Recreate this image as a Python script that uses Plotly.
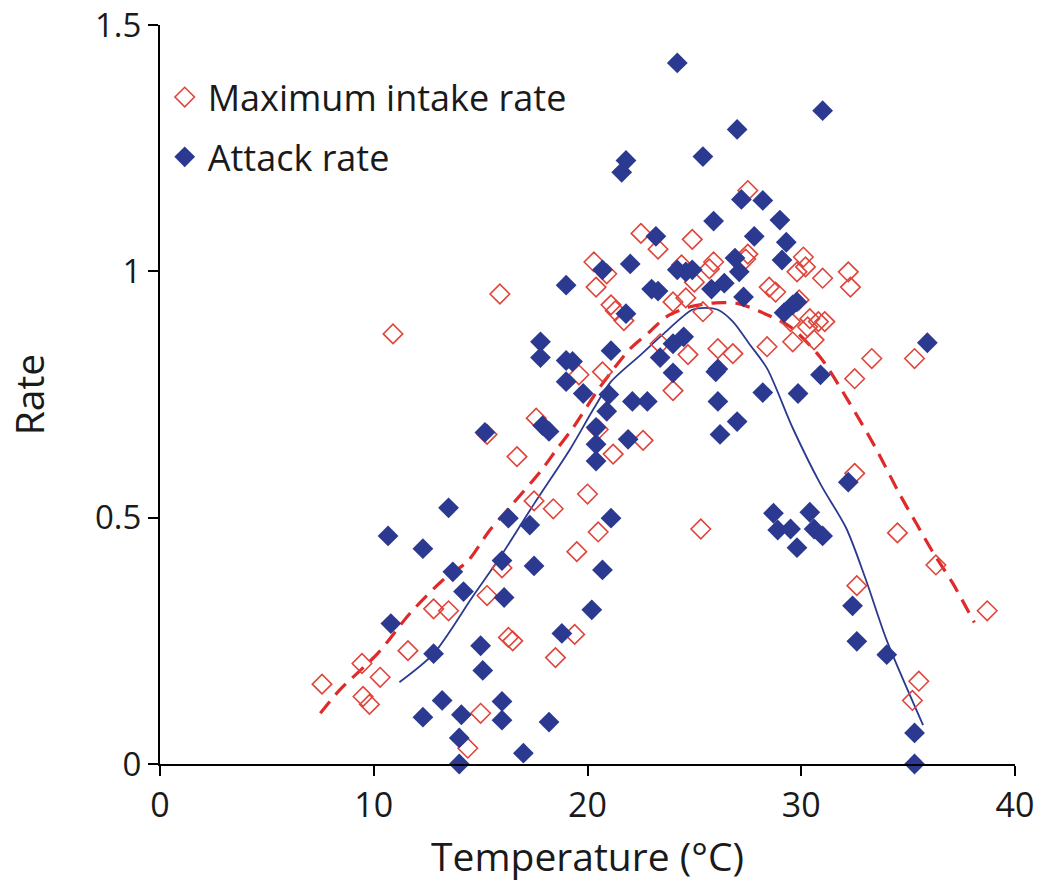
import plotly.graph_objects as go

# Maximum intake rate (open red diamonds)
mir_temp = [7.58, 9.45, 9.5, 9.8, 10.3, 10.9, 11.6, 12.8, 13.5, 14.4, 15.0, 15.3, 15.3, 15.9, 16.0,
            16.3, 16.5, 16.7, 17.5, 17.6, 18.4, 18.5, 19.4, 19.5, 19.6, 20.0, 20.3, 20.4, 20.5, 20.5,
            20.7, 20.9, 21.1, 21.2, 21.3, 21.7, 22.5, 22.6, 23.3, 23.4, 24.0, 24.0, 24.4, 24.6, 24.7,
            24.9, 25.0, 25.3, 25.4, 25.7, 25.9, 26.1, 26.8, 27.4, 27.5, 27.5, 28.4, 28.5, 28.8, 29.5,
            29.6, 29.8, 29.9, 30.1, 30.2, 30.3, 30.4, 30.6, 30.8, 31.0, 31.1, 32.2, 32.3, 32.5, 32.5,
            32.6, 33.3, 34.5, 35.3, 35.2, 35.5, 36.3, 38.7]
mir_rate = [0.162, 0.204, 0.137, 0.121, 0.176, 0.873, 0.230, 0.315, 0.311, 0.032, 0.103, 0.342, 0.669, 0.954, 0.398,
            0.257, 0.250, 0.624, 0.534, 0.702, 0.518, 0.216, 0.263, 0.431, 0.790, 0.548, 1.019, 0.968, 0.471, 0.679,
            0.796, 0.995, 0.932, 0.629, 0.920, 0.900, 1.077, 0.657, 1.045, 0.853, 0.938, 0.758, 1.013, 0.946, 0.831,
            1.065, 0.978, 0.477, 0.918, 1.005, 1.019, 0.843, 0.833, 1.025, 1.035, 1.164, 0.847, 0.968, 0.958, 0.898,
            0.857, 0.999, 0.942, 1.029, 1.009, 0.887, 0.904, 0.861, 0.898, 0.986, 0.898, 0.999, 0.968, 0.782, 0.590,
            0.362, 0.823, 0.469, 0.823, 0.129, 0.168, 0.404, 0.311]

# Attack rate (filled blue diamonds)
ar_temp = [10.67, 10.8, 12.3, 12.3, 12.8, 13.2, 13.5, 13.7, 14.0, 14.0, 14.1, 14.2, 15.0, 15.1, 15.2,
           16.0, 16.0, 16.0, 16.1, 16.3, 17.0, 17.3, 17.5, 17.8, 17.8, 17.9, 18.2, 18.2, 18.8, 19.0,
           19.0, 19.0, 19.3, 19.8, 20.2, 20.4, 20.4, 20.4, 20.7, 20.7, 20.9, 21.0, 21.1, 21.1, 21.6,
           21.8, 21.8, 21.9, 22.0, 22.1, 22.8, 23.0, 23.2, 23.3, 23.4, 24.0, 24.0, 24.2, 24.2, 24.5,
           24.6, 24.9, 25.4, 25.8, 25.9, 26.0, 26.1, 26.2, 26.1, 26.4, 26.9, 27.0, 27.0, 27.1, 27.2,
           27.3, 27.8, 28.2, 28.2, 28.7, 28.9, 29.0, 29.1, 29.2, 29.3, 29.6, 29.5, 29.8, 29.8, 29.85,
           30.4, 30.6, 30.9, 31.0, 31.0, 32.2, 32.4, 32.6, 34.0, 35.3, 35.3, 35.9]
ar_rate = [0.463, 0.285, 0.437, 0.095, 0.224, 0.129, 0.520, 0.390, 0.053, 0.000, 0.100, 0.350, 0.240, 0.190, 0.673,
           0.127, 0.089, 0.413, 0.338, 0.499, 0.022, 0.485, 0.402, 0.857, 0.825, 0.687, 0.675, 0.085, 0.265, 0.972,
           0.819, 0.776, 0.817, 0.752, 0.313, 0.683, 0.649, 0.615, 0.394, 1.003, 0.716, 0.750, 0.499, 0.839, 1.201,
           1.225, 0.914, 0.659, 1.015, 0.736, 0.736, 0.964, 1.071, 0.960, 0.825, 0.794, 0.853, 1.423, 1.003, 0.867,
           0.999, 1.003, 1.233, 0.964, 1.102, 0.796, 0.736, 0.669, 0.802, 0.976, 1.027, 1.288, 0.695, 0.999, 1.146,
           0.948, 1.071, 1.144, 0.754, 0.509, 0.475, 1.104, 1.023, 0.916, 1.059, 0.932, 0.477, 0.938, 0.439, 0.752,
           0.511, 0.477, 0.790, 0.463, 1.326, 0.572, 0.321, 0.249, 0.222, 0.063, 0.000, 0.855]

# Fitted curves
mir_fit_temp = [7.5, 8.4, 10.2, 11.7, 13.2, 14.4, 15.4, 16.5, 17.8, 18.6, 19.3, 20.6, 22.0, 22.9, 23.7,
                24.8, 26.0, 27.1, 28.4, 29.5, 30.9, 32.2, 33.5, 34.6, 35.4, 36.2, 37.1, 38.1]
mir_fit_rate = [0.103, 0.150, 0.225, 0.306, 0.372, 0.412, 0.473, 0.528, 0.594, 0.641, 0.681, 0.766, 0.843, 0.877, 0.908,
                0.928, 0.936, 0.934, 0.912, 0.887, 0.825, 0.737, 0.640, 0.548, 0.487, 0.427, 0.366, 0.287]

ar_fit_temp = [11.2, 12.8, 14.6, 15.9, 17.5, 19.2, 20.3, 21.1, 22.5, 23.5, 24.9, 25.5, 26.1, 26.8, 27.6,
               28.4, 29.6, 30.9, 32.1, 33.0, 34.0, 35.7]
ar_fit_rate = [0.166, 0.224, 0.338, 0.419, 0.528, 0.640, 0.722, 0.776, 0.831, 0.871, 0.922, 0.926, 0.922, 0.898, 0.851,
               0.803, 0.682, 0.568, 0.479, 0.377, 0.251, 0.079]

RED = "#e0443a"
BLUE = "#2b3990"
FONT = "Open Sans"
TXT = "#1a1a1a"

fig = go.Figure()
fig.add_trace(go.Scatter(x=mir_fit_temp, y=mir_fit_rate, mode="lines", showlegend=False,
                         line=dict(color="#e02a2a", width=3.2, dash="15px,9px", shape="spline", smoothing=0.8),
                         hoverinfo="skip"))
fig.add_trace(go.Scatter(x=ar_fit_temp, y=ar_fit_rate, mode="lines", showlegend=False,
                         line=dict(color=BLUE, width=1.8, shape="spline", smoothing=0.8), hoverinfo="skip"))
fig.add_trace(go.Scatter(x=mir_temp, y=mir_rate, mode="markers", name="Maximum intake rate",
                         legendgroup="a", cliponaxis=False,
                         marker=dict(symbol="diamond-open", size=15, color=RED, line=dict(width=1.6, color=RED))))
fig.add_trace(go.Scatter(x=ar_temp, y=ar_rate, mode="markers", name="Attack rate",
                         legendgroup="b", cliponaxis=False,
                         marker=dict(symbol="diamond", size=16, color=BLUE, line=dict(width=0))))

fig.update_layout(
    width=1038, height=886,
    margin=dict(l=160, r=23, t=25, b=122),
    paper_bgcolor="white", plot_bgcolor="white",
    font=dict(family=FONT, color=TXT, size=34),
    showlegend=True,
    legend=dict(x=0.002, y=0.943, xanchor="left", yanchor="top", bgcolor="rgba(0,0,0,0)",
                font=dict(size=36, family=FONT, color=TXT), tracegroupgap=10,
                itemwidth=36),
    xaxis=dict(range=[0, 40], tickvals=[0, 10, 20, 30, 40], showgrid=False, zeroline=False,
               showline=True, linecolor="black", linewidth=2, ticks="outside", ticklen=10,
               tickwidth=2, tickcolor="black", tickfont=dict(size=34, color=TXT), automargin=False,
               ticklabeloverflow="allow",
               title=dict(text="Temperature (°C)", font=dict(size=39, color=TXT), standoff=18)),
    yaxis=dict(range=[0, 1.5], tickvals=[0, 0.5, 1, 1.5], ticktext=["0", "0.5", "1", "1.5"],
               showgrid=False, zeroline=False, automargin=False, ticklabeloverflow="allow",
               showline=True, linecolor="black", linewidth=2, ticks="outside", ticklen=10,
               tickwidth=2, tickcolor="black", tickfont=dict(size=33, color=TXT),
               title=dict(text="Rate", font=dict(size=39, color=TXT), standoff=38)),
)

fig.write_html("out.html")
